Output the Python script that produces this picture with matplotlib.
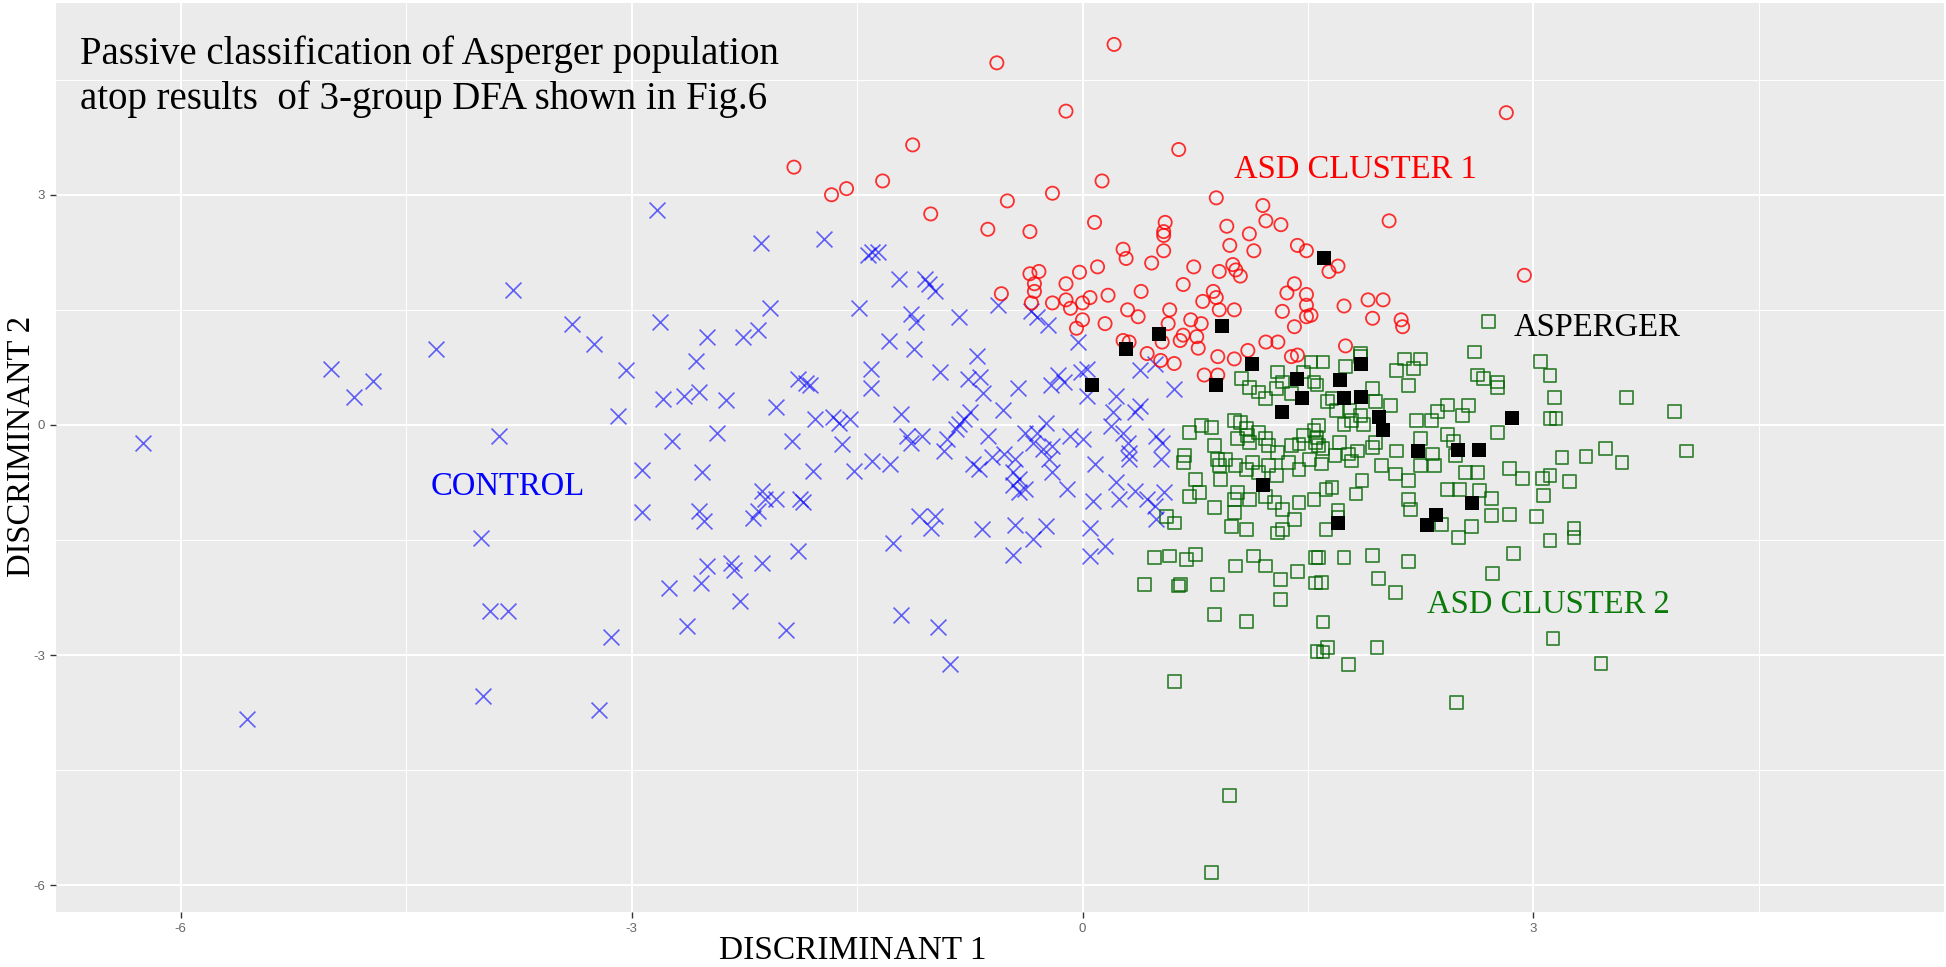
import matplotlib
matplotlib.use('Agg')
import matplotlib.pyplot as plt
from matplotlib.ticker import FixedLocator

plt.rcParams['axes.unicode_minus'] = False

# CONTROL group (blue x)
ctrl_x = [-6.25, -5.0, -4.85, -4.72, -4.30, -3.88, -3.40, -3.25, -3.04, -3.09, -2.81, -2.79, -2.65, -2.73, -2.93, -2.93, -4.0, -2.75,
          -3.94, -3.82, -3.14, -2.63, -3.99, -3.22, -5.56, -2.83, -3.79,
          -2.14, -1.72, -1.43, -1.40, -1.36, -1.22, -1.05, -1.02, -0.98,
          -2.08, -1.49, -1.14, -1.11, -0.82, -0.56, -0.34, -0.30, -0.23,
          -2.50, -2.26, -2.16, -2.57, -1.29, -1.12, -0.70, -0.03,
          -2.55, -2.37, -2.04, -1.89, -1.84, -1.81, -1.41, -1.41, -0.95, -0.76, -0.68, -0.66, -0.43, -0.21, -0.16, -0.12, -0.01, 0.03, 0.03, 0.22, 0.38, 0.48, 0.61, 0.38, 0.35, 0.20, 0.19, 0.27,
          -1.21, -1.78, -1.66, -1.62, -1.55, -0.53, -0.79, -0.75, -0.82, -0.84,
          -2.43, -1.93, -1.60, -1.17, -1.14, -1.07, -0.90, -0.92, -0.63, -0.38, -0.30, -0.24, -0.33, -0.26, -0.20, -0.08, 0.0, 0.30, 0.31, 0.49, 0.53,
          -2.53, -1.79, -1.52, -1.40, -1.28, -0.73, -0.69, -0.60, -0.52, -0.45, -0.46, -0.22, -0.20, 0.08, 0.31, 0.52,
          -2.13, -2.11, -2.04, -2.16, -2.19, -1.88, -1.86, -2.55, -2.52, -1.09, -1.01, -0.98, -0.67, -0.46, -0.42, -0.38, -0.42, -0.45, -0.24, -0.33, -0.10, 0.07, 0.22, 0.24, 0.35, 0.43, 0.48, 0.49, 0.54, 0.05, 0.15, 0.05, -0.46, -1.26, -1.89, -2.13, -2.34, -2.32, -2.50, -2.54, -2.28,
          -1.97, -1.21, -0.96, -0.88]
ctrl_y = [-0.24, 0.73, 0.37, 0.57, 0.99, -0.15, 1.31, 1.06, 0.72, 0.12, 1.34, 0.34, 0.38, -0.21, -0.59, -1.13, -1.47, -2.13,
          -2.43, -2.43, -2.77, -2.62, -3.54, -3.72, -3.83, 2.80, 1.76,
          2.37, 2.42, 2.22, 2.25, 2.26, 1.90, 1.90, 1.84, 1.74,
          1.52, 1.52, 1.45, 1.34, 1.41, 1.56, 1.48, 1.41, 1.30,
          1.15, 1.15, 1.24, 0.83, 1.10, 0.99, 0.90, 1.08,
          0.43, 0.32, 0.23, 0.60, 0.54, 0.52, 0.73, 0.48, 0.69, 0.60, 0.62, 0.41, 0.48, 0.52, 0.65, 0.56, 0.69, 0.73, 0.38, 0.38, 0.71, 0.80, 0.47, 0.25, 0.17, 0.17, -0.01, -0.10,
          0.14, 0.08, 0.10, 0.03, 0.08, 0.19, 0.08, 0.17, 0.01, -0.05,
          -0.10, -0.21, -0.25, -0.14, -0.23, -0.14, -0.18, -0.34, -0.14, -0.10, -0.10, 0.03, -0.23, -0.31, -0.27, -0.14, -0.18, -0.23, -0.36, -0.14, -0.23,
          -0.62, -0.60, -0.60, -0.47, -0.51, -0.51, -0.58, -0.42, -0.38, -0.45, -0.62, -0.45, -0.62, -0.51, -0.45, -0.45,
          -0.86, -0.97, -0.97, -1.12, -1.21, -0.97, -1.01, -1.12, -1.25, -1.19, -1.34, -1.19, -1.36, -0.79, -0.88, -0.84, -0.71, -1.30, -1.32, -1.49, -0.84, -0.99, -0.75, -0.97, -0.86, -0.97, -1.06, -1.23, -0.88, -1.34, -1.58, -1.71, -1.69, -1.54, -1.65, -1.80, -1.80, -1.89, -1.84, -2.06, -2.30,
          -2.67, -2.48, -2.63, -3.12]

# ASD CLUSTER 1 (red circles)
c1_x = [-0.57, 0.21, -0.11, -1.13, 0.64, -1.92, -1.67, -1.57, -1.33, -1.01, -0.50, -0.20, 0.13, 0.89, 1.20, 1.22, 1.32, 0.96, 1.11, 0.98, 1.14,
        -0.63, -0.35, 0.08, 0.55, 0.54, 0.54, 0.54, 0.27, 0.29, 0.46, 0.74, 0.91, 1.0, 1.02, 1.05, 0.67, 0.87, 0.89, 0.80, 0.10, -0.02, -0.11,
        -0.35, -0.29, -0.32, -0.32, -0.54, 0.39, 0.17, 0.05, -0.11, 1.43, 1.49, 1.41, 1.36, 1.49,
        2.82, 2.04, 2.94, 1.70, 1.64, 1.90, 2.0, 1.74,
        -0.34, -0.20, -0.08, 0.0, 0.0, -0.04, 0.15, 0.30, 0.37, 0.58, 0.57, 0.72, 0.79, 0.91, 1.01, 0.67, 0.65, 0.76, 0.27, 0.31, 0.43, 0.52, 0.61,
        0.77, 0.90, 1.01, 1.10, 0.81, 0.90, 1.22, 1.30, 1.33, 1.41, 1.49, 1.49, 1.39, 1.43, 0.53,
        1.93, 2.12, 2.13, 1.75, 1.52]
c1_y = [4.72, 4.96, 4.09, 3.65, 3.59, 3.36, 3.0, 3.08, 3.18, 2.75, 2.92, 3.02, 3.18, 2.96, 2.86, 2.66, 2.61, 2.59, 2.49, 2.34, 2.27,
        2.55, 2.52, 2.64, 2.64, 2.52, 2.47, 2.27, 2.29, 2.17, 2.11, 2.06, 2.0, 2.09, 2.02, 1.94, 1.83, 1.74, 1.66, 1.61, 2.06, 1.99, 1.84,
        1.97, 2.0, 1.84, 1.74, 1.71, 1.74, 1.69, 1.66, 1.63, 2.34, 2.27, 1.84, 1.72, 1.70,
        4.07, 2.66, 1.95, 2.07, 2.0, 1.63, 1.63, 1.55,
        1.59, 1.59, 1.52, 1.59, 1.37, 1.26, 1.32, 1.50, 1.41, 1.50, 1.32, 1.37, 1.32, 1.50, 1.50, 1.17, 1.10, 1.15, 1.10, 1.08, 0.93, 0.84, 0.80,
        1.00, 0.89, 0.86, 0.97, 0.65, 0.65, 1.08, 1.08, 1.48, 1.28, 1.56, 1.41, 0.89, 0.91, 1.08,
        1.39, 1.37, 1.28, 1.03, 1.43]

# ASD CLUSTER 2 (green squares)
c2_x = [0.68, 0.67, 0.71, 0.79, 0.86, 0.88, 0.90, 0.91, 0.75, 0.78, 0.71, 0.56, 0.61, 0.48, 0.58, 0.69, 0.75, 0.41, 0.64, 0.65, 0.90,
        1.01, 1.05, 1.09, 1.10, 1.03, 1.11, 1.17, 1.22, 1.24, 1.30, 1.39, 1.44, 1.47, 1.54, 1.55,
        1.06, 1.11, 1.17, 1.22, 1.29, 1.33, 1.30, 1.39, 1.47, 1.52, 1.54,
        0.95, 1.02, 1.09, 1.13, 1.17, 1.24, 1.29, 1.37, 1.44, 1.51,
        0.92, 1.03, 1.01, 1.11, 1.22, 1.28, 1.33, 1.41, 1.44, 1.54,
        0.88, 1.01, 0.99, 1.09, 1.30, 1.33,
        1.02, 1.14, 1.22, 1.32, 1.43, 1.55, 1.32, 1.55,
        2.70, 2.61, 3.05, 3.11, 2.63, 2.67, 2.76, 2.76, 3.14, 3.62, 3.94, 3.11, 3.15, 2.76, 4.02, 3.48, 3.19, 3.35, 3.59, 2.84, 2.93, 3.06,
        3.11, 3.24, 3.07, 2.72, 2.84, 3.02, 2.72, 3.27, 3.27, 3.11, 2.87, 2.73, 2.59, 2.50, 2.39, 2.17, 1.93, 1.74, 1.57, 1.97, 1.59, 2.08,
        2.14, 2.20, 2.25, 2.09, 2.17, 1.85, 1.85, 1.60, 1.75, 1.93, 2.05,
        2.43, 2.57, 2.36, 2.53, 2.22, 2.32,
        2.43, 2.47, 2.25, 2.09, 2.33, 2.25, 2.34, 2.48,
        2.08, 2.17, 1.86, 1.82, 1.66, 1.62,
        2.43, 2.55, 2.63, 2.51, 2.64,
        2.17, 2.18, 1.70, 1.70, 1.62,
        1.99, 1.77, 1.59, 1.71, 1.57, 1.95,
        1.63, 1.78, 1.57, 1.74, 1.85, 1.95,
        1.56, 1.66, 1.69, 1.79, 1.87, 1.56, 1.60, 1.68, 1.79, 1.83, 1.93,
        0.88, 1.09, 1.56, 0.61, 0.98, 0.86,
        1.60, 1.63, 1.60, 1.96, 1.77, 3.13, 3.45, 2.49]
c2_y = [-0.40, -0.49, -0.10, -0.01, -0.03, -0.27, -0.45, -0.53, -0.71, -0.88, -0.93, -1.19, -1.28, -1.73, -1.71, -1.76, -1.69, -2.08, -2.10, -2.08, -2.08,
        0.06, 0.03, -0.05, -0.14, -0.18, -0.23, -0.10, -0.18, -0.27, -0.36, -0.27, -0.25, -0.14, -0.07, -0.23,
        0.60, 0.49, 0.43, 0.34, 0.47, 0.56, 0.69, 0.41, 0.69, 0.82, 0.56,
        -0.45, -0.53, -0.58, -0.49, -0.62, -0.53, -0.66, -0.49, -0.58, -0.45,
        -0.71, -0.88, -0.97, -0.97, -0.93, -1.01, -1.10, -1.23, -1.01, -0.97,
        -1.08, -1.14, -1.32, -1.36, -1.41, -1.36,
        -1.84, -1.71, -1.84, -2.02, -1.91, -1.73, -2.28, -2.06,
        1.35, 0.95, 0.83, 0.64, 0.65, 0.60, 0.56, 0.49, 0.36, 0.36, 0.17, 0.08, 0.08, -0.10, -0.34, -0.31, -0.42, -0.41, -0.49, -0.57, -0.70, -0.70,
        -0.66, -0.74, -0.92, -0.96, -1.17, -1.19, -1.18, -1.35, -1.47, -1.51, -1.68, -1.94, -1.32, -1.47, -1.30, -1.78, -1.70, -1.73, -1.73, -2.00, -2.05, -2.18,
        0.86, 0.73, 0.86, 0.71, 0.51, 0.93, 0.89, 0.82, 0.76, 0.47, 0.25,
        0.26, 0.25, 0.17, 0.12, 0.06, 0.06,
        -0.13, -0.21, -0.18, -0.34, -0.38, -0.53, -0.53, -0.40,
        -0.64, -0.73, -0.73, -0.90, -0.82, -0.84,
        -0.84, -0.62, -0.62, -0.84, -0.86,
        -0.97, -1.10, -1.12, -1.21, -1.36,
        -0.53, -0.38, -0.51, -0.23, -0.27, -0.23,
        0.30, 0.19, -0.01, 0.01, 0.12, 0.30,
        0.52, 0.34, 0.19, 0.06, 0.01, -0.16, -0.31, -0.40, -0.47, -0.34, -0.29,
        -2.47, -2.56, -2.95, -3.35, -4.83, -5.84,
        -2.57, -2.90, -2.96, -2.90, -3.12, -2.78, -3.11, -3.62]

# ASPERGER (black filled squares)
asp_x = [1.61, 0.06, 0.29, 0.51, 0.93, 1.13, 0.89, 1.43, 1.46, 1.33, 1.20, 1.85, 1.71, 1.74, 1.85, 1.97, 2.00, 2.23, 2.50, 2.64, 2.86, 2.59, 2.35, 2.29, 1.70]
asp_y = [2.18, 0.52, 0.99, 1.19, 1.29, 0.80, 0.52, 0.60, 0.35, 0.17, -0.79, 0.80, 0.58, 0.35, 0.37, 0.10, -0.07, -0.34, -0.33, -0.33, 0.09, -1.02, -1.17, -1.31, -1.28]

fig = plt.figure(figsize=(19.46, 9.67), dpi=100)
ax = fig.add_axes([0.0288, 0.0569, 0.970, 0.940])
ax.set_facecolor('#EBEBEB')
for s in ax.spines.values():
    s.set_visible(False)

ax.set_xlim(-6.83, 5.73)
ax.set_ylim(-6.35, 5.5)
ax.xaxis.set_major_locator(FixedLocator([-6, -3, 0, 3]))
ax.yaxis.set_major_locator(FixedLocator([-6, -3, 0, 3]))
ax.xaxis.set_minor_locator(FixedLocator([-4.5, -1.5, 1.5, 4.5]))
ax.yaxis.set_minor_locator(FixedLocator([-4.5, -1.5, 1.5, 4.5]))
ax.grid(which='major', color='white', linewidth=1.4)
ax.grid(which='minor', color='white', linewidth=0.7)
ax.set_axisbelow(True)
ax.tick_params(which='major', length=4, width=1, color='#333333',
               labelsize=9.5, labelcolor='#666666', pad=4)
ax.tick_params(which='minor', length=0)
for lab in ax.get_xticklabels() + ax.get_yticklabels():
    lab.set_family('Liberation Sans')

ax.scatter(ctrl_x, ctrl_y, marker='x', s=130, color='#0000FF', alpha=0.6, linewidths=1.2, zorder=2)
ax.scatter(c2_x, c2_y, marker='s', s=85, facecolors='none', edgecolors='#006400', alpha=0.75, linewidths=1.3, zorder=3)
ax.scatter(c1_x, c1_y, marker='o', s=90, facecolors='none', edgecolors='#FF0000', alpha=0.8, linewidths=1.3, zorder=3)
ax.scatter(asp_x, asp_y, marker='s', s=95, color='black', linewidths=0, zorder=4)

serif = 'Liberation Serif'
ax.text(-6.67, 4.71, 'Passive classification of Asperger population', family=serif, fontsize=28, va='baseline')
ax.text(-6.67, 4.12, 'atop results  of 3-group DFA shown in Fig.6', family=serif, fontsize=28, va='baseline')
ax.text(1.01, 3.22, 'ASD CLUSTER 1', family=serif, fontsize=23.5, color='#FF0000', va='baseline')
ax.text(2.87, 1.16, 'ASPERGER', family=serif, fontsize=23.5, color='black', va='baseline')
ax.text(-4.34, -0.92, 'CONTROL', family=serif, fontsize=23.5, color='#0000FF', va='baseline')
ax.text(2.29, -2.45, 'ASD CLUSTER 2', family=serif, fontsize=23.5, color='#0B7A0B', va='baseline')

fig.text(0.438, 0.0165, 'DISCRIMINANT 1', family=serif, fontsize=24, ha='center', va='center')
fig.text(0.0113, 0.538, 'DISCRIMINANT 2', family=serif, fontsize=23.5, ha='center', va='center', rotation=90)

fig.savefig('out.png', dpi=100)
